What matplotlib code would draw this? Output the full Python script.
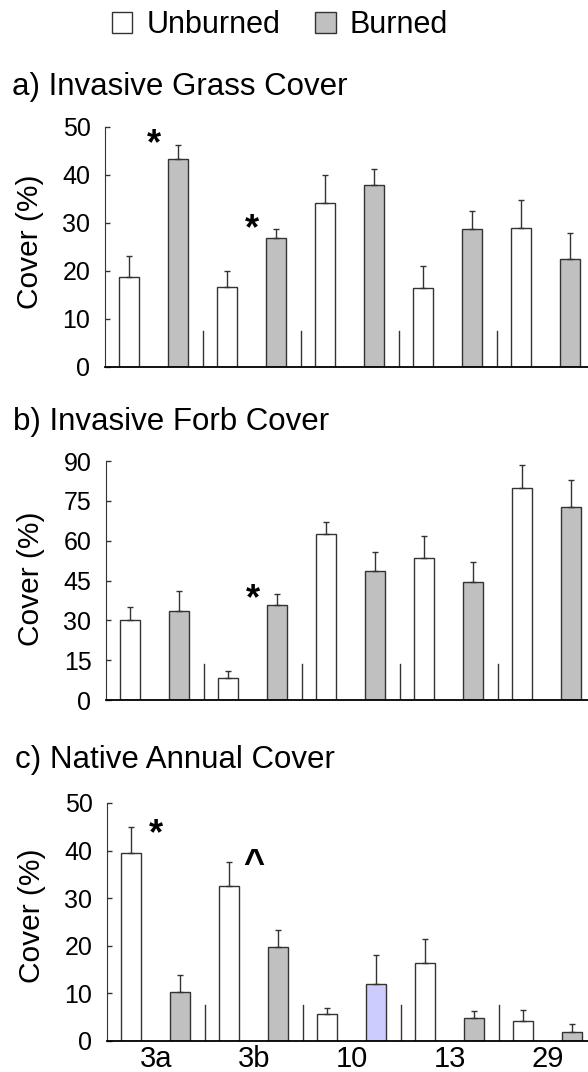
import matplotlib
matplotlib.use("Agg")
import matplotlib.pyplot as plt
from matplotlib.patches import Patch


SITES = ["3a", "3b", "10", "13", "29"]

GRASS_UNBURNED = [18.8, 16.6, 34.1, 16.4, 28.9]
GRASS_UNBURNED_SE = [4.4, 3.3, 6.0, 4.7, 5.9]
GRASS_BURNED = [43.3, 26.8, 37.9, 28.7, 22.6]
GRASS_BURNED_SE = [2.9, 1.9, 3.3, 3.8, 5.4]

FORB_UNBURNED = [30.1, 8.4, 62.5, 53.6, 80.0]
FORB_UNBURNED_SE = [5.0, 2.5, 4.7, 8.2, 8.5]
FORB_BURNED = [33.6, 35.6, 48.5, 44.3, 72.8]
FORB_BURNED_SE = [7.6, 4.4, 7.2, 7.5, 9.9]

NATIVE_UNBURNED = [39.4, 32.5, 5.7, 16.3, 4.3]
NATIVE_UNBURNED_SE = [5.6, 5.2, 1.2, 5.2, 2.3]
NATIVE_BURNED = [10.3, 19.7, 12.0, 4.9, 1.8]
NATIVE_BURNED_SE = [3.6, 3.7, 6.0, 1.3, 1.8]

# significance marks: (site index, height, symbol)
GRASS_MARKS = [(0, 48.7, "*"), (1, 31.0, "*")]
FORB_MARKS = [(1, 42.0, "*")]
NATIVE_MARKS = [(0, 45.7, "*"), (1, 38.9, "^")]

UNBURNED_COLOR = "white"
BURNED_COLOR = "#c0c0c0"
EDGE = "#333333"
MARK_SIZE = 26
# how far above the baseline the middle of each glyph sits, in em
MARK_MID = {"*": 0.58, "^": 0.5}

plt.rcParams["font.family"] = ["Liberation Sans", "DejaVu Sans"]


def _panel(ax, unb, unb_se, brn, brn_se, marks, ymax, ystep, label_y,
           burned_colors=None, xlabels=None):
    n = len(unb)
    xs = list(range(n))
    xu = [x + 0.245 for x in xs]
    xb = [x + 0.745 for x in xs]
    if burned_colors is None:
        burned_colors = [BURNED_COLOR] * n

    ax.bar(xu, unb, width=0.2, color=UNBURNED_COLOR, edgecolor=EDGE, linewidth=1.0, zorder=2)
    ax.bar(xb, brn, width=0.2, color=burned_colors, edgecolor=EDGE, linewidth=1.0, zorder=2)
    ax.errorbar(xu, unb, yerr=[[0] * n, unb_se], fmt="none", ecolor=EDGE,
                elinewidth=1.0, capsize=2.3, capthick=1.0, zorder=3)
    ax.errorbar(xb, brn, yerr=[[0] * n, brn_se], fmt="none", ecolor=EDGE,
                elinewidth=1.0, capsize=2.3, capthick=1.0, zorder=3)

    # short dividers between sites
    for x in range(1, n):
        ax.axvline(x, ymin=0, ymax=0.152, color=EDGE, linewidth=1.0)

    for i, y, sym in marks:
        ax.annotate(sym, (i + 0.5, y), xytext=(0, -MARK_MID[sym] * MARK_SIZE),
                    textcoords="offset points", ha="center", va="baseline",
                    fontsize=MARK_SIZE, fontweight="bold")

    ax.set_xlim(0, n)
    ax.set_ylim(0, ymax)
    ax.set_yticks(list(range(0, ymax + 1, ystep)))
    ax.tick_params(axis="y", direction="in", length=3.3, width=1.0, color=EDGE,
                   labelsize=18, pad=10.5)
    if xlabels is not None:
        ax.set_xticks([x + 0.5 for x in xs], labels=xlabels)
        ax.tick_params(axis="x", length=0, labelsize=21, pad=3)
    else:
        ax.set_xticks([])

    ax.spines["top"].set_visible(False)
    ax.spines["right"].set_visible(False)
    ax.spines["left"].set_color(EDGE)
    ax.spines["bottom"].set_color("black")
    ax.spines["bottom"].set_linewidth(1.3)
    ax.set_ylabel("Cover (%)", fontsize=21.5)
    ax.yaxis.set_label_coords(-0.125, label_y)
    return


fig = plt.figure(figsize=(5.88, 10.72), dpi=100)
ax_a = fig.add_axes([105 / 588, 1 - 367 / 1072, 490 / 588, 240 / 1072])
ax_b = fig.add_axes([106 / 588, 1 - 700 / 1072, 490 / 588, 239 / 1072])
ax_c = fig.add_axes([107 / 588, 1 - 1041 / 1072, 490 / 588, 238 / 1072])

_panel(ax_a, GRASS_UNBURNED, GRASS_UNBURNED_SE, GRASS_BURNED, GRASS_BURNED_SE,
       GRASS_MARKS, 50, 10, 0.523)
_panel(ax_b, FORB_UNBURNED, FORB_UNBURNED_SE, FORB_BURNED, FORB_BURNED_SE,
       FORB_MARKS, 90, 15, 0.506)
native_colors = [BURNED_COLOR, BURNED_COLOR, "#ccccff", BURNED_COLOR, BURNED_COLOR]
_panel(ax_c, NATIVE_UNBURNED, NATIVE_UNBURNED_SE, NATIVE_BURNED, NATIVE_BURNED_SE,
       NATIVE_MARKS, 50, 10, 0.525, burned_colors=native_colors, xlabels=SITES)

fig.text(12 / 588, 1 - 95 / 1072, "a) Invasive Grass Cover", fontsize=22.5, va="baseline")
fig.text(13 / 588, 1 - 430 / 1072, "b) Invasive Forb Cover", fontsize=22.5, va="baseline")
fig.text(15 / 588, 1 - 768 / 1072, "c) Native Annual Cover", fontsize=22.5, va="baseline")

handles = [
    Patch(facecolor=UNBURNED_COLOR, edgecolor=EDGE, linewidth=1.0, label="Unburned"),
    Patch(facecolor=BURNED_COLOR, edgecolor=EDGE, linewidth=1.0, label="Burned"),
]
fig.legend(handles=handles, loc="center", bbox_to_anchor=(280 / 588, 1 - 25 / 1072),
           ncol=2, frameon=False, fontsize=22, handlelength=0.66, handleheight=0.7,
           handletextpad=0.46, columnspacing=1.15, borderpad=0)

fig.savefig("out.png", dpi=100)
